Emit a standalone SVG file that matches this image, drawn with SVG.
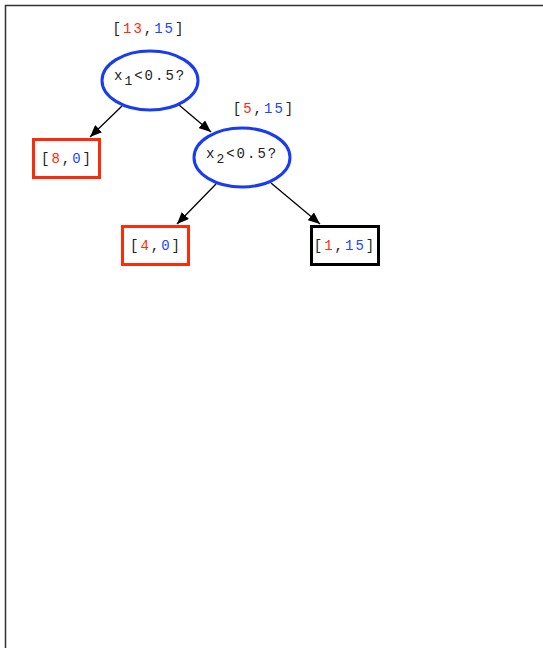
<svg xmlns="http://www.w3.org/2000/svg" width="543" height="648" viewBox="0 0 543 648">
  <style>
    text { font-family: "Liberation Mono", "DejaVu Sans Mono", monospace; font-size: 14px; letter-spacing: 2px; fill: #222; }
    .r { fill: #ff2a0a; }
    .b { fill: #1a44ff; }
    .split { fill: #fff; stroke: #1a3cf0; stroke-width: 3; }
    .leaf-neg { fill: #fff; stroke: #ff2a0a; stroke-width: 3; }
    .leaf-pos { fill: #fff; stroke: #000; stroke-width: 3; }
    .edge { stroke: #000; stroke-width: 1.3; fill: none; marker-end: url(#arrow); }
  </style>
  <defs>
    <marker id="arrow" viewBox="0 0 12 10" refX="12" refY="5" markerWidth="12" markerHeight="10" markerUnits="userSpaceOnUse" orient="auto">
      <path d="M0,0 L12,5 L0,10 z" fill="#000"/>
    </marker>
  </defs>
  <rect width="543" height="648" fill="#fff"/>
  <!-- frame -->
  <path d="M5.5,648 V5.5 H543" fill="none" stroke="#333" stroke-width="1.5"/>

  <g id="connectors">
    <line class="edge" x1="122" y1="106" x2="90" y2="137"/>
    <line class="edge" x1="179" y1="105" x2="211" y2="132"/>
    <line class="edge" x1="216" y1="184" x2="177" y2="224"/>
    <line class="edge" x1="271" y1="183" x2="320" y2="224"/>
  </g>

  <g id="root">
    <text x="149" y="33" text-anchor="middle">[<tspan class="r">13</tspan>,<tspan class="b">15</tspan>]</text>
    <ellipse class="split" cx="150" cy="80.5" rx="48" ry="29.5"/>
    <text x="114" y="80">x<tspan dy="5" font-size="13">1</tspan><tspan dy="-5">&lt;0.5?</tspan></text>
  </g>

  <g id="split-x2">
    <text x="264" y="113" text-anchor="middle">[<tspan class="r">5</tspan>,<tspan class="b">15</tspan>]</text>
    <ellipse class="split" cx="242" cy="157.5" rx="48" ry="29.5"/>
    <text x="206" y="158">x<tspan dy="5" font-size="13">2</tspan><tspan dy="-5">&lt;0.5?</tspan></text>
  </g>

  <g id="leaf-8-0">
    <rect class="leaf-neg" x="33.5" y="139.5" width="66" height="38"/>
    <text x="67" y="163" text-anchor="middle">[<tspan class="r">8</tspan>,<tspan class="b">0</tspan>]</text>
  </g>

  <g id="leaf-4-0">
    <rect class="leaf-neg" x="122.5" y="226.5" width="66" height="38"/>
    <text x="156" y="250" text-anchor="middle">[<tspan class="r">4</tspan>,<tspan class="b">0</tspan>]</text>
  </g>

  <g id="leaf-1-15">
    <rect class="leaf-pos" x="311.5" y="226.5" width="67" height="38"/>
    <text x="345" y="250" text-anchor="middle">[<tspan class="r">1</tspan>,<tspan class="b">15</tspan>]</text>
  </g>
</svg>
